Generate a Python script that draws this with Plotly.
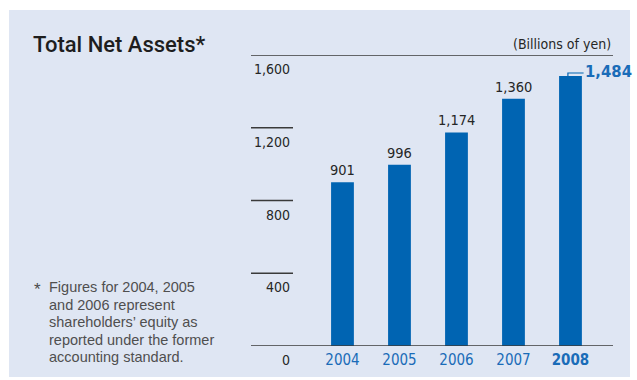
import plotly.graph_objects as go

# Total net assets, billions of yen
years = ["2004", "2005", "2006", "2007", "2008"]
net_assets = [901, 996, 1174, 1360, 1484]
value_text = ["901", "996", "1,174", "1,360", "1,484"]
tick_values = [0, 400, 800, 1200, 1600]
tick_text = ["0", "400", "800", "1,200", "1,600"]
footnote_lines = [
    "Figures for 2004, 2005",
    "and 2006 represent",
    "shareholders\u2019 equity as",
    "reported under the former",
    "accounting standard.",
]

BAR = "#0064b2"
BG = "#dfe6f3"
LINE = "#3a3a3a"
BLUE_TXT = "#1a6cb8"
COND = "Liberation Sans Narrow, DejaVu Sans Condensed, Arial Narrow, sans-serif"
SANS = "Liberation Sans, Arial, Helvetica, sans-serif"

W, H = 637, 380
L, R, T, B = 251, 24, 55, 34
plot_w = W - L - R
plot_h = H - T - B


def px_x(px):
    return (px - L) / plot_w


def px_y(py):
    return (H - B - py) / plot_h


fig = go.Figure()
fig.add_trace(go.Bar(
    x=years, y=net_assets, marker=dict(color=BAR, line=dict(width=0)),
    width=0.4, hoverinfo="skip",
))

shapes = [
    # panel background
    dict(type="rect", xref="paper", yref="paper", x0=px_x(9), x1=px_x(630),
         y0=px_y(377), y1=px_y(10), fillcolor=BG, line=dict(width=0), layer="below"),
]
# full-width rules at the top and bottom of the scale, short rules elsewhere
for v in tick_values:
    x1 = 1 if v in (0, tick_values[-1]) else px_x(293)
    shapes.append(dict(type="line", xref="paper", yref="y", x0=0, x1=x1, y0=v, y1=v,
                       line=dict(color=LINE, width=1.3)))

# bracket pointing to the latest value
last = len(years) - 1
shapes.append(dict(type="path", xref="x", yref="y",
                   path=f"M {last - 0.045},{net_assets[last]} L {last - 0.045},{net_assets[last] + 17} "
                        f"L {last + 0.23},{net_assets[last] + 17}",
                   line=dict(color=BAR, width=1.2)))

annotations = []
for v, t in zip(tick_values, tick_text):
    annotations.append(dict(xref="paper", yref="y", x=px_x(292), y=v, text=t,
                            xanchor="right", yanchor="top", yshift=-4, showarrow=False,
                            font=dict(family=COND, size=14, color="#262626")))
# value labels above the bars (category index positions)
for i in range(last):
    annotations.append(dict(xref="x", yref="y", x=i, y=net_assets[i], text=value_text[i],
                            xanchor="center", yanchor="bottom", yshift=2, showarrow=False,
                            font=dict(family=COND, size=14.5, color="#262626")))
annotations += [
    dict(xref="x", yref="y", x=last + 0.23, y=net_assets[last], text=f"<b>{value_text[last]}</b>",
         xanchor="left", yanchor="middle", xshift=-1, yshift=5, showarrow=False,
         font=dict(family=COND, size=16.5, color=BLUE_TXT)),
    dict(xref="paper", yref="paper", x=1, y=1, text="(Billions of yen)",
         xanchor="right", yanchor="bottom", yshift=1, showarrow=False,
         font=dict(family=COND, size=14, color="#262626")),
    dict(xref="paper", yref="paper", x=px_x(31), y=px_y(45),
         text="Total Net Assets*", xanchor="left", yanchor="middle", showarrow=False,
         font=dict(family="Roboto, " + SANS, size=22, weight=500, color="#1e1e1e")),
    dict(xref="paper", yref="paper", x=px_x(32), y=px_y(289),
         text="*", xanchor="left", yanchor="middle", showarrow=False,
         font=dict(family=SANS, size=17, color="#4a4a4a")),
]
for i, line in enumerate(footnote_lines):
    annotations.append(dict(xref="paper", yref="paper", x=px_x(47), y=px_y(287 + 17.5 * i),
                            text=line, xanchor="left", yanchor="middle", showarrow=False,
                            font=dict(family=SANS, size=14.5, color="#4f4f4f")))

fig.update_layout(
    width=W, height=H, margin=dict(l=L, r=R, t=T, b=B),
    paper_bgcolor="white", plot_bgcolor="rgba(0,0,0,0)",
    showlegend=False,
    shapes=shapes, annotations=annotations,
    xaxis=dict(type="category", range=[-1.605, 4.746], showgrid=False, zeroline=False,
               showline=False, ticks="", tickvals=years,
               ticktext=years[:4] + [f"<b>{years[4]}</b>"],
               tickfont=dict(family=COND, size=15, color=BLUE_TXT),
               ticklabelstandoff=3),
    yaxis=dict(range=[0, 1600], showgrid=False, zeroline=False, showline=False,
               showticklabels=False, ticks=""),
)

fig.write_html("out.html")
